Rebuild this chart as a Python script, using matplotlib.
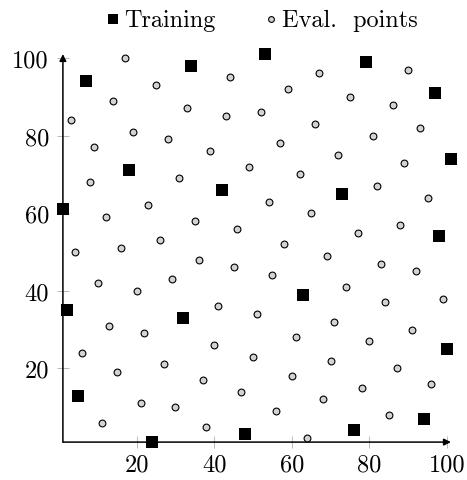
import matplotlib
matplotlib.use("Agg")
import matplotlib.pyplot as plt

# Training points (black squares)
train_x = [7, 34, 53, 79, 97, 101, 18, 42, 73, 1, 98, 2, 63, 32, 100, 5, 24, 48, 76, 94]
train_y = [94, 98, 101, 99, 91, 74, 71, 66, 65, 61, 54, 35, 39, 33, 25, 13, 1, 3, 4, 7]

# Evaluation points (grey circles)
eval_x = [17, 25, 14, 33, 3, 19, 28, 9, 31, 8, 44, 67, 59, 43, 52, 66, 57, 39, 49, 62,
          90, 75, 86, 93, 81, 72, 89, 82,
          23, 12, 35, 4, 16, 26, 29, 10, 20, 54, 65, 46, 58, 36, 45, 55, 41, 51,
          95, 88, 77, 69, 83, 92, 74, 84, 99,
          13, 22, 6, 27, 15, 21, 30, 11, 61, 40, 50, 37, 60, 47, 56, 38, 64,
          71, 91, 80, 70, 87, 78, 96, 68, 85]
eval_y = [100, 93, 89, 87, 84, 81, 79, 77, 69, 68, 95, 96, 92, 85, 86, 83, 78, 76, 72, 70,
          97, 90, 88, 82, 80, 75, 73, 67,
          62, 59, 58, 50, 51, 53, 43, 42, 40, 63, 60, 56, 52, 48, 46, 44, 36, 34,
          64, 57, 55, 49, 47, 45, 41, 37, 38,
          31, 29, 24, 21, 19, 11, 10, 6, 28, 26, 23, 17, 18, 14, 9, 5, 2,
          32, 30, 27, 22, 20, 15, 16, 12, 8]

xticks = [20, 40, 60, 80, 100]
yticks = [20, 40, 60, 80, 100]

plt.rcParams['font.family'] = 'cmr10'
plt.rcParams['axes.unicode_minus'] = False
plt.rcParams['axes.formatter.use_mathtext'] = False

fig = plt.figure(figsize=(4.67, 4.81), dpi=100)
ax = fig.add_axes([0.1347, 0.0788, 0.8308, 0.8067])

ax.scatter(train_x, train_y, marker='s', s=70, color='black', linewidths=0,
           clip_on=False, zorder=4, label='Training')
ax.scatter(eval_x, eval_y, marker='o', s=24, facecolor='#d3d3d3', edgecolor='black',
           linewidths=0.8, clip_on=False, zorder=3, label='Eval.  points')

ax.set_xlim(1, 101)
ax.set_ylim(1, 101)
ax.set_xticks(xticks)
ax.set_yticks(yticks)
ax.set_xticklabels([str(t) for t in xticks])
ax.set_yticklabels([str(t) for t in yticks])

for s in ax.spines.values():
    s.set_visible(False)

# axis lines with arrow heads
ax.annotate('', xy=(1.0, 0), xytext=(0, 0), xycoords='axes fraction',
            arrowprops=dict(arrowstyle='-|>', color='black', lw=1.1,
                            mutation_scale=10, shrinkA=0, shrinkB=0), zorder=2)
ax.annotate('', xy=(0, 1.0), xytext=(0, 0), xycoords='axes fraction',
            arrowprops=dict(arrowstyle='-|>', color='black', lw=1.1,
                            mutation_scale=10, shrinkA=0, shrinkB=0), zorder=2)

ax.tick_params(direction='inout', length=8, width=0.6, color='#b0b0b0',
               labelsize=17.5, pad=6)
ax.tick_params(axis='x', pad=4)

ax.legend(loc='lower center', bbox_to_anchor=(0.51, 1.035), ncol=2, frameon=False,
          fontsize=17.5, handletextpad=0.05, columnspacing=1.9, borderaxespad=0,
          markerscale=0.85, handlelength=0.8)

plt.savefig('out.png', dpi=100)
